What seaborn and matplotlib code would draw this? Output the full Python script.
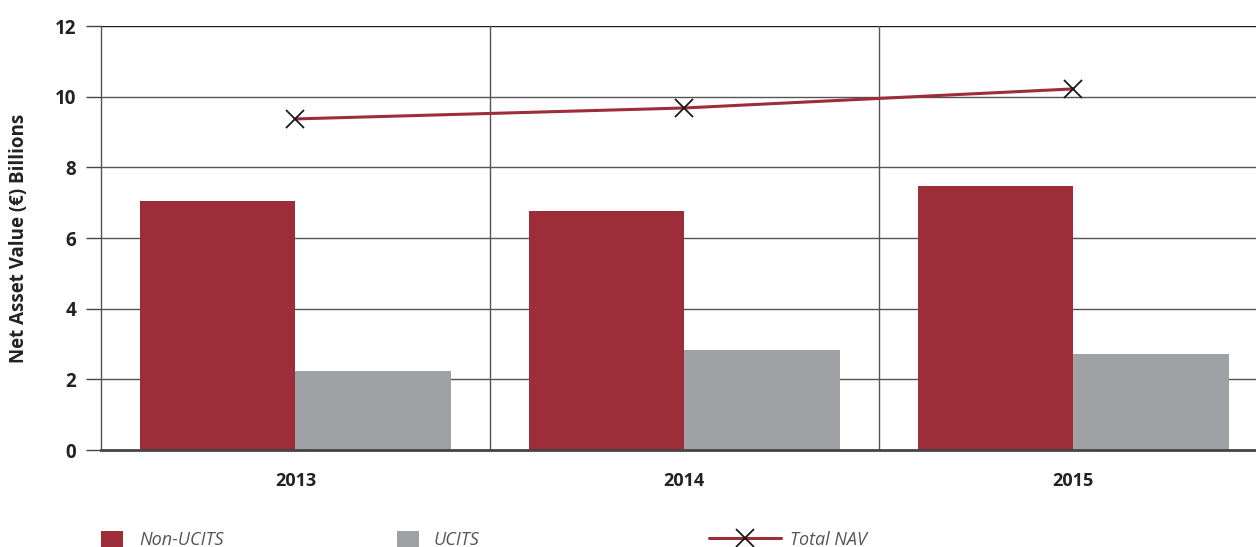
import matplotlib
matplotlib.use("Agg")
import matplotlib.pyplot as plt
import seaborn as sns
import pandas as pd
from matplotlib.lines import Line2D
from matplotlib.patches import Patch

years = ["2013", "2014", "2015"]
non_ucits = [7.05, 6.76, 7.47]
ucits = [2.24, 2.83, 2.72]
total_nav = [9.37, 9.68, 10.22]
series_names = ["Non-UCITS", "UCITS"]
y_ticks = [0, 2, 4, 6, 8, 10, 12]

RED = "#9E2D3A"
GREY = "#A0A1A5"

df = pd.DataFrame({
    "Year": years * 2,
    "Value": non_ucits + ucits,
    "Series": [series_names[0]] * 3 + [series_names[1]] * 3,
})

sns.set_theme(style="white")
plt.rcParams["font.family"] = ["Open Sans", "DejaVu Sans"]

fig = plt.figure(figsize=(12.56, 5.47), dpi=100)
ax = fig.add_axes([101 / 1256, 1 - 450 / 547, 1 - 101 / 1256, (450 - 26) / 547])

sns.barplot(data=df, x="Year", y="Value", hue="Series", order=years,
            hue_order=series_names, palette=[RED, GREY], width=0.8,
            saturation=1, linewidth=0, legend=False, ax=ax)

sns.pointplot(x=years, y=total_nav, order=years, color=RED, markers="",
              linestyles="-", linewidth=2.2, errorbar=None, ax=ax)
sns.pointplot(x=years, y=total_nav, order=years, color="#1a1a1a", markers="x",
              linestyles="none", markersize=13, markeredgewidth=1.3,
              errorbar=None, ax=ax)

ax.set_xlim(-0.5, 2.47)
ax.set_ylim(0, 12)
ax.set_yticks(y_ticks)
ax.set_yticklabels([str(t) for t in y_ticks], fontweight="bold", fontsize=13.5, color="#222")
ax.set_xticks([0, 1, 2])
ax.set_xticklabels(years, fontweight="bold", fontsize=13, color="#222")
ax.set_xticks([-0.5, 0.5, 1.5], minor=True)
ax.tick_params(axis="x", which="major", length=0, pad=16)
ax.tick_params(axis="x", which="minor", length=7, width=1, color="#444", direction="out")
ax.tick_params(axis="y", length=11, width=1, color="#444", direction="out", pad=7, left=True)

for t in y_ticks[1:]:
    ax.axhline(t, color="#1a1a1a" if t == 12 else "#555555", lw=1, zorder=0.5)
for xv in [0.5, 1.5]:
    ax.axvline(xv, color="#555555", lw=1, zorder=0.5)

ax.set_xlabel("")
ax.set_ylabel("Net Asset Value (€) Billions", fontweight="bold", fontsize=13.5,
              color="#222", labelpad=18)

for s in ["top", "right"]:
    ax.spines[s].set_visible(False)
ax.spines["left"].set_color("#555555")
ax.spines["left"].set_linewidth(1)
ax.spines["bottom"].set_color("#444444")
ax.spines["bottom"].set_linewidth(2)

leg_y = 1 - 540 / 547
h1 = Patch(facecolor=RED, edgecolor="none")
h2 = Patch(facecolor=GREY, edgecolor="none")
h3 = Line2D([], [], color=RED, lw=2.2, marker="x", markersize=13,
            markeredgecolor="#1a1a1a", markeredgewidth=1.3)
for h, lab, x0, hl, tp in [(h1, "Non-UCITS", 101, 1.2, 0.9), (h2, "UCITS", 397, 1.2, 0.8),
                           (h3, "Total NAV", 709, 4.0, 0.5)]:
    fig.legend([h], [lab], loc="center left", bbox_to_anchor=(x0 / 1256, leg_y),
               frameon=False, handlelength=hl, handleheight=1.1, handletextpad=tp,
               borderaxespad=0, borderpad=0,
               prop={"style": "italic", "size": 13}, labelcolor="#555555")

fig.savefig("out.png", dpi=100)
